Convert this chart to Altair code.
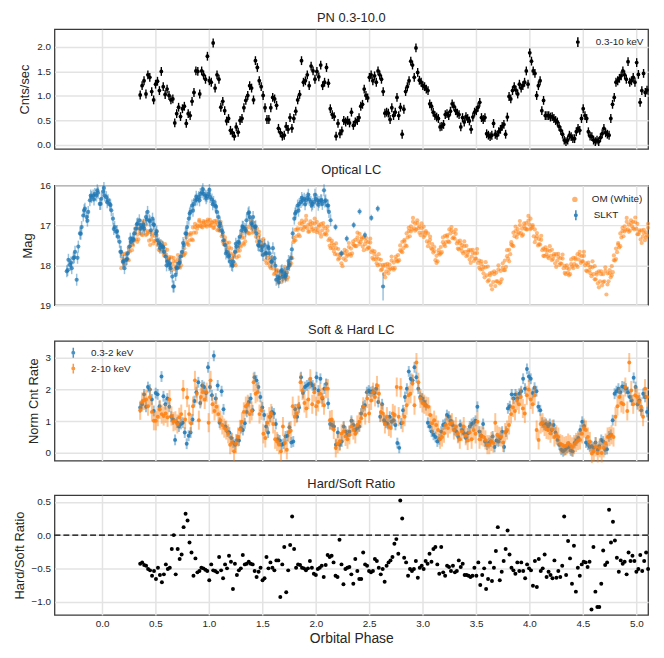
import altair as alt
import numpy as np
import pandas as pd

BLUE = "#1f77b4"
ORANGE = "#ff7f0e"
FONT = "Liberation Sans"
TXT = "#262626"

GRID = [0.0, 0.5, 1.0, 1.5, 2.0, 2.5, 3.0, 3.5, 4.0, 4.5, 5.0]
X_DOMAIN = [-0.445, 5.11]

# ---------------- PN 0.3-10 keV light curve (two read-off segments)
PN_A_RANGE = (0.357, 2.370)
PN_A = [1.02,1.21,1.31,1.04,1.43,1.38,1.09,0.92,1.24,1.30,
        1.11,1.50,1.19,1.03,1.14,1.01,0.92,0.94,0.45,0.64,
        0.77,0.58,0.74,0.79,0.44,0.64,0.60,0.89,1.07,1.51,
        1.50,1.04,1.51,1.43,1.34,1.81,1.31,1.28,2.08,1.16,
        1.43,1.34,0.77,0.89,0.70,0.49,0.54,0.30,0.25,0.18,
        0.37,0.26,0.50,0.54,0.76,0.91,1.01,1.21,1.16,0.92,
        1.72,1.58,1.31,1.19,1.01,0.76,0.52,0.52,0.76,0.97,
        0.94,0.81,0.34,0.25,0.18,0.20,0.38,0.32,0.56,0.34,
        0.54,0.69,0.92,1.03,1.72,1.28,1.31,1.43,1.21,1.61,
        1.51,1.34,1.50,1.39,1.63,1.21,1.28,1.58,1.26,0.74,
        0.62,0.58,0.18,0.44,0.23,0.29,0.50,0.47,0.50,0.45,
        0.67,0.40,0.47]
PN_B_RANGE = (2.389, 5.100)
PN_B = [0.50,0.56,0.79,0.83,1.14,1.01,0.96,1.38,1.43,1.31,
        1.41,1.28,1.51,1.43,1.34,1.09,0.65,0.67,0.65,0.52,
        0.76,0.60,0.67,0.97,0.60,0.77,0.22,0.73,1.09,1.19,
        1.31,1.71,1.63,1.38,1.98,1.48,1.32,1.28,1.21,1.19,
        1.14,1.11,0.84,0.79,0.67,0.60,0.57,0.54,0.37,0.38,
        0.42,0.62,0.64,0.60,0.69,0.84,0.79,0.70,0.65,0.62,
        0.37,0.56,0.47,0.58,0.54,0.49,0.32,0.57,0.67,0.70,
        0.77,0.87,0.56,0.52,0.56,0.23,0.20,0.17,0.20,0.44,
        0.22,0.20,0.27,0.32,0.38,0.42,0.22,0.57,0.99,0.94,
        1.11,1.19,1.12,1.04,1.24,1.16,1.21,1.28,1.51,1.24,
        1.88,1.71,1.51,1.46,1.01,1.21,1.31,0.70,0.91,0.60,
        0.60,0.60,0.57,0.58,0.54,0.50,0.47,0.38,0.30,0.22,
        0.10,0.07,0.10,0.20,0.17,0.13,0.13,0.27,0.34,0.30,
        0.54,0.74,0.60,0.54,0.27,0.18,0.17,0.10,0.07,0.10,
        0.07,0.15,0.23,0.34,0.25,0.22,0.20,0.54,0.83,0.97,
        1.28,1.31,1.36,1.41,1.51,1.43,1.34,1.70,1.28,1.31,
        1.38,1.28,1.68,1.44,0.87,1.11,1.46,1.07,1.12]
PN_ERR = 0.09

# ---------------- Soft (0.3-2 keV) and hard (2-10 keV), normalised
SH_A_RANGE = (0.357, 2.370)
SOFT_A = [1.43,1.53,1.84,1.45,2.07,1.99,1.68,1.32,1.88,1.84,
          1.47,2.40,1.78,1.53,1.71,1.45,1.14,1.05,0.41,0.95,
          0.83,0.91,0.95,0.64,0.29,0.54,0.64,1.05,1.63,1.91,
          2.22,1.57,2.12,2.07,1.88,2.69,2.07,1.81,3.05,1.71,
          2.12,0.95,1.94,1.37,0.83,0.67,0.64,0.47,0.33,0.26,
          0.41,0.39,0.78,0.72,0.93,1.29,1.60,1.71,1.34,2.38,
          2.28,2.07,1.76,1.43,1.19,0.83,0.64,1.14,1.29,1.24,
          0.91,0.43,0.39,0.26,0.29,0.52,0.54,0.81,0.33,0.36,
          1.37,1.14,1.43,2.38,1.88,2.07,2.12,2.17,2.19,2.12,
          2.02,2.38,1.96,2.33,1.71,2.02,2.17,1.55,0.91,0.88,
          0.83,0.26,0.64,0.26,0.36,0.83,0.67,0.57,0.67,1.01,
          0.88,0.72]
SH_B_RANGE = (2.389, 5.100)
SOFT_B = [0.78,0.83,1.24,1.45,1.50,1.91,1.96,1.91,1.94,1.88,
          2.02,1.60,1.14,1.53,1.03,0.95,0.91,1.14,0.98,1.03,
          0.88,0.31,0.16,0.93,1.34,1.76,2.02,2.56,2.33,2.28,
          2.69,2.38,2.02,1.76,1.71,1.60,1.50,0.95,0.83,0.67,
          0.57,0.50,0.36,0.43,0.67,0.88,0.91,1.19,1.14,1.01,
          0.88,0.72,0.67,0.50,0.88,0.72,0.62,0.47,0.62,0.83,
          0.91,0.95,1.01,1.45,0.67,0.54,0.91,0.36,0.26,0.31,
          0.36,0.52,0.19,0.39,0.36,0.47,0.67,0.19,0.67,1.40,
          1.47,1.84,1.71,1.84,1.71,1.86,1.94,2.33,2.02,2.64,
          2.40,2.33,1.88,2.05,1.94,1.45,1.34,0.95,0.88,0.91,
          0.83,0.91,0.72,0.88,0.64,0.41,0.26,0.10,0.05,0.10,
          0.16,0.19,0.08,0.05,0.31,0.39,0.47,0.72,0.98,0.85,
          0.33,0.26,0.19,0.21,0.16,0.33,0.10,0.21,0.41,0.36,
          0.10,0.12,0.52,0.57,1.03,1.86,1.94,2.02,1.91,2.09,
          2.07,2.02,1.91,1.76,1.65,2.36,2.07,1.53,1.65,1.34,
          1.86,1.76,1.29]
HARD_A = [1.34,1.60,1.65,1.68,1.47,1.76,1.29,1.01,1.01,1.14,
          1.37,1.22,1.16,1.24,1.12,1.68,1.16,0.98,1.01,0.91,
          1.12,1.22,1.99,1.05,1.74,1.22,0.93,1.47,2.28,1.86,
          1.03,1.76,1.91,1.68,1.91,0.95,2.28,1.53,1.32,1.45,
          1.22,1.03,0.88,0.78,0.72,0.60,0.26,0.33,0.05,0.29,
          0.50,0.74,0.98,1.29,1.47,1.53,1.22,1.32,2.22,1.86,
          1.91,1.22,1.34,0.60,0.47,0.95,1.14,1.24,0.91,0.43,
          0.36,0.26,0.05,0.83,0.31,0.10,0.64,0.70,1.47,1.14,
          1.24,1.50,2.22,1.96,1.57,1.40,1.68,2.33,1.53,1.91,
          1.47,1.60,1.86,1.74,1.50,2.02,2.02,1.03,1.05,0.74,
          0.16,0.29,0.36,0.60,0.67,0.52,0.43,0.57,0.83,0.72,
          0.60]
HARD_B = [0.88,0.98,1.09,1.45,1.19,1.71,1.24,1.65,1.91,1.76,
          2.12,1.86,1.29,1.24,0.91,1.14,0.83,0.78,1.24,1.19,
          2.07,1.14,2.05,0.95,1.14,1.50,1.81,1.86,2.19,1.50,
          2.84,2.22,1.71,1.57,1.53,1.47,1.45,1.19,0.93,1.03,
          0.88,0.72,0.43,0.50,0.62,0.88,0.78,0.91,0.95,0.72,
          0.83,0.60,0.43,0.67,0.83,0.54,0.39,0.64,0.43,0.72,
          0.60,0.98,0.43,0.54,0.50,0.41,0.26,0.26,0.36,0.31,
          0.95,0.57,0.52,0.50,0.33,0.64,0.72,0.88,1.22,1.43,
          1.32,1.65,1.53,1.76,1.40,1.24,1.81,1.99,1.68,1.53,
          1.81,0.72,0.41,0.91,0.95,0.83,0.74,0.72,0.62,0.74,
          0.50,0.57,0.50,0.29,0.26,0.21,0.23,0.31,0.26,0.19,
          0.26,0.33,0.39,0.41,0.60,0.78,0.72,0.50,0.36,-0.02,
          0.05,0.19,0.00,0.16,0.00,0.16,0.31,0.50,0.52,0.57,
          0.50,1.14,1.47,1.76,1.57,1.53,2.07,1.32,2.84,1.96,
          1.53,1.81,1.76,1.60,1.45,1.14,2.02,1.76]
SOFT_ERR = 0.17
HARD_ERR = 0.30

# ---------------- Hardness ratio
RATIO_A_RANGE = (0.357, 2.370)
RATIO_A = [-0.43,-0.41,-0.45,-0.46,-0.51,-0.53,-0.61,-0.54,-0.66,-0.49,
           -0.60,-0.71,-0.59,-0.44,-0.51,-0.49,-0.21,0.00,-0.59,-0.21,
           -0.36,-0.29,0.12,0.32,0.22,-0.11,-0.26,-0.61,-0.35,-0.56,
           -0.54,-0.49,-0.50,-0.52,-0.54,-0.68,-0.44,-0.53,-0.54,-0.56,
           -0.33,-0.53,-0.65,-0.44,-0.50,-0.31,-0.40,-0.81,-0.43,-0.60,
           -0.53,-0.50,-0.30,-0.44,-0.43,-0.40,-0.43,-0.44,-0.54,-0.63,
           -0.55,-0.49,-0.68,-0.65,-0.33,-0.50,-0.41,-0.49,-0.53,-0.38,
           -0.38,-0.93,-0.44,-0.18,-0.86,-0.53,-0.15,0.28,-0.21,-0.49,
           -0.44,-0.45,-0.49,-0.50,-0.53,-0.50,-0.39,-0.49,-0.58,-0.60,
           -0.51,-0.49,-0.46,-0.63,-0.45,-0.30,-0.33,-0.31,-0.41,-0.61,
           -0.63,-0.07,-0.44,-0.74,-0.51,-0.49,-0.48,-0.59,-0.73,-0.36]
RATIO_B_RANGE = (2.389, 5.110)
RATIO_B = [-0.54,-0.66,-0.66,-0.26,-0.44,-0.46,-0.54,-0.56,-0.54,-0.36,
           -0.39,-0.49,-0.59,-0.51,-0.70,-0.46,-0.41,-0.38,-0.33,-0.13,
           -0.06,-0.28,0.52,0.25,-0.34,-0.41,-0.61,-0.51,-0.54,-0.51,
           -0.39,-0.64,-0.49,-0.46,-0.51,-0.39,-0.43,-0.28,-0.40,-0.21,
           -0.18,-0.44,-0.58,-0.18,-0.56,-0.61,-0.46,-0.48,-0.54,-0.46,
           -0.56,-0.54,-0.38,-0.48,-0.43,-0.60,-0.60,-0.61,-0.63,-0.61,
           -0.49,-0.61,-0.41,-0.75,-0.60,-0.50,-0.81,-0.66,-0.41,-0.69,
           -0.49,-0.24,0.12,-0.68,-0.55,-0.39,-0.21,0.07,-0.29,-0.49,
           -0.53,-0.58,-0.41,-0.54,-0.41,-0.54,-0.65,-0.44,-0.50,-0.53,
           -0.76,-0.39,-0.78,-0.36,-0.54,-0.50,-0.29,-0.63,-0.55,-0.60,
           -0.65,-0.38,-0.64,-0.54,-0.63,-0.46,0.28,-0.60,-0.09,-0.35,
           -0.73,-0.16,-0.85,-0.49,-0.61,-0.44,-0.40,-0.41,-0.48,-0.40,
           -1.12,-0.18,-0.85,-1.08,-1.08,-0.73,-0.23,-0.45,-0.41,0.38,
           -0.11,0.20,-0.08,-0.34,-0.55,-0.38,-0.43,-0.40,-0.59,-0.26,
           -0.39,-0.31,-0.39,-0.55,-0.51,-0.30,-0.54,-0.39,-0.26,-0.51]

# ---------------- Optical: OM (White) magnitudes, phase 0.18 .. 5.11 (step 0.01)
OM_RANGE = (0.18, 5.11)
OM_MAG = [18.07,17.84,17.93,17.71,17.87,17.73,17.85,17.55,17.65,17.49,
          17.62,17.37,17.38,17.18,17.35,17.23,17.35,17.07,17.20,17.07,
          17.24,17.02,17.13,16.98,17.22,17.18,17.38,17.17,17.35,17.26,
          17.45,17.26,17.38,17.24,17.49,17.43,17.63,17.42,17.60,17.52,
          17.75,17.59,17.73,17.61,17.87,17.83,18.03,17.80,17.97,17.89,
          18.09,17.90,18.03,17.84,18.02,17.88,18.00,17.68,17.75,17.57,
          17.69,17.42,17.46,17.23,17.37,17.23,17.35,17.05,17.18,17.04,
          17.18,17.00,17.02,16.90,17.01,16.94,17.05,16.89,16.99,16.91,
          17.03,16.90,16.97,16.86,17.00,16.93,17.06,16.89,16.98,16.92,
          17.12,16.97,17.13,17.01,17.27,17.23,17.47,17.30,17.50,17.44,
          17.70,17.55,17.70,17.58,17.82,17.76,17.95,17.68,17.80,17.64,
          17.77,17.50,17.53,17.31,17.45,17.30,17.40,17.08,17.17,17.04,
          17.20,16.98,17.08,16.92,17.15,17.08,17.28,17.08,17.30,17.24,
          17.50,17.37,17.55,17.44,17.72,17.70,17.95,17.75,17.95,17.87,
          18.07,17.92,18.08,17.96,18.20,18.15,18.35,18.13,18.32,18.24,
          18.42,18.22,18.33,18.14,18.32,18.18,18.30,17.95,18.00,17.79,
          17.82,17.42,17.38,17.11,17.27,17.11,17.23,16.95,17.08,16.96,
          17.12,16.92,17.03,16.86,17.07,16.98,17.15,16.90,17.05,16.94,
          17.14,16.95,17.08,16.91,17.12,17.03,17.20,16.96,17.12,17.02,
          17.22,17.07,17.23,17.13,17.37,17.33,17.57,17.38,17.57,17.49,
          17.72,17.57,17.73,17.59,17.82,17.75,17.95,17.70,17.83,17.69,
          17.87,17.64,17.73,17.54,17.72,17.58,17.70,17.40,17.50,17.36,
          17.52,17.30,17.39,17.21,17.42,17.34,17.53,17.30,17.47,17.39,
          17.59,17.42,17.56,17.43,17.67,17.63,17.85,17.65,17.85,17.79,
          18.00,17.84,17.98,17.86,18.10,18.03,18.22,17.98,18.15,18.04,
          18.20,17.98,18.08,17.88,18.07,17.93,18.07,17.78,17.90,17.74,
          17.87,17.62,17.65,17.41,17.57,17.40,17.50,17.20,17.30,17.14,
          17.27,17.02,17.10,16.91,17.07,16.95,17.10,16.87,17.07,17.02,
          17.24,17.07,17.18,17.03,17.25,17.18,17.40,17.20,17.43,17.36,
          17.57,17.47,17.68,17.64,17.87,17.76,17.90,17.62,17.73,17.54,
          17.67,17.42,17.48,17.26,17.42,17.28,17.40,17.10,17.20,17.12,
          17.32,17.17,17.33,17.21,17.45,17.40,17.60,17.38,17.57,17.49,
          17.70,17.52,17.66,17.51,17.74,17.66,17.85,17.62,17.78,17.69,
          17.89,17.70,17.83,17.69,17.94,17.88,18.10,17.90,18.10,18.04,
          18.30,18.05,18.25,18.03,18.37,18.25,18.50,18.18,18.42,18.22,
          18.52,18.18,18.40,18.10,18.45,18.14,18.35,17.95,18.12,17.88,
          18.04,17.77,17.83,17.61,17.72,17.48,17.50,17.18,17.27,17.14,
          17.30,17.09,17.18,16.99,17.19,17.08,17.23,16.95,17.08,16.94,
          17.10,16.88,16.98,16.83,17.07,17.03,17.27,17.10,17.33,17.27,
          17.50,17.34,17.48,17.36,17.62,17.58,17.77,17.55,17.72,17.62,
          17.82,17.64,17.76,17.61,17.84,17.76,17.95,17.72,17.88,17.79,
          17.99,17.82,17.96,17.83,18.07,18.01,18.22,18.00,18.18,18.09,
          18.22,17.97,18.03,17.81,17.97,17.85,18.00,17.72,17.85,17.74,
          17.94,17.77,17.90,17.76,18.00,17.95,18.15,17.93,18.12,18.04,
          18.27,18.05,18.22,18.02,18.35,18.23,18.45,18.15,18.40,18.22,
          18.50,18.22,18.40,18.14,18.73,18.20,18.40,18.12,18.30,18.02,
          18.17,17.87,17.88,17.58,17.67,17.48,17.55,17.20,17.30,17.14,
          17.27,17.02,17.11,16.91,17.10,16.98,17.13,16.87,17.02,16.91,
          17.10,16.92,17.08,16.96,17.22,17.16,17.35,17.12,17.28,17.19,
          17.37,17.17,17.25,17.06]
# second read-off of the OM cloud (the wider scatter), phase 0.19 .. 5.11 (step 0.02)
OM2_RANGE = (0.19, 5.11)
OM2_MAG = [17.72,17.97,17.69,17.87,17.41, 17.50,17.08,17.41,17.14,17.23,
           16.90,17.24,17.14,17.49,17.18, 17.39,17.14,17.61,17.49,17.68,
           17.47,17.87,17.79,18.12,17.81, 18.03,17.74,18.06,17.75,17.73,
           17.30,17.49,17.19,17.37,16.96, 17.08,16.86,17.03,16.93,17.00,
           16.85,17.01,16.92,17.06,16.88, 17.10,16.91,17.41,17.37,17.60,
           17.43,17.84,17.72,18.00,17.56, 17.63,17.21,17.48,17.15,17.20,
           16.86,17.18,17.04,17.40,17.16, 17.50,17.34,17.88,17.82,18.03,
           17.80,18.22,18.11,18.45,18.16, 18.35,18.04,18.36,18.02,17.95,
           17.30,17.37,17.07,17.27,16.88, 17.05,16.76,17.16,16.97,17.10,
           16.83,17.17,16.99,17.28,16.94, 17.20,17.03,17.51,17.45,17.65,
           17.45,17.85,17.71,18.02,17.61, 17.77,17.44,17.76,17.47,17.52,
           17.18,17.47,17.30,17.62,17.31, 17.55,17.33,17.81,17.72,17.95,
           17.72,18.12,17.99,18.30,17.96, 18.11,17.78,18.11,17.85,17.90,
           17.50,17.67,17.36,17.52,17.06, 17.15,16.81,17.13,16.94,17.18,
           16.95,17.29,17.14,17.52,17.28, 17.60,17.54,17.94,17.69,17.70,
           17.30,17.52,17.24,17.42,17.04, 17.30,17.11,17.58,17.45,17.65,
           17.40,17.77,17.62,17.94,17.61, 17.83,17.59,18.06,17.97,18.20,
           17.92,18.40,18.20,18.60,18.15, 18.40,18.00,18.42,18.06,18.12,
           17.62,17.90,17.42,17.52,17.03, 17.22,16.89,17.26,17.02,17.10,
           16.76,17.09,16.99,17.42,17.19, 17.47,17.26,17.76,17.62,17.78,
           17.52,17.87,17.72,18.04,17.71, 17.95,17.73,18.19,18.07,18.25,
           17.85,18.07,17.81,18.04,17.66, 17.90,17.66,18.13,18.00,18.20,
           17.90,18.35,18.18,18.55,18.15, 18.42,18.05,18.48,18.20,18.25,
           17.75,17.84,17.44,17.52,17.06, 17.15,16.81,17.16,16.94,17.07,
           16.80,17.22,17.12,17.44,17.11, 17.30,16.96]

# ---------------- Optical: SLKT magnitudes
SLKT_RANGE = (-0.330, 2.139)
SLKT_MAG = [18.15,17.86,17.99,18.07,17.82,17.66,18.36,17.53,17.20,17.04,
            16.75,16.58,16.79,16.66,16.37,16.29,16.25,16.21,16.25,16.18,
            16.46,16.33,16.15,16.25,16.29,16.37,16.46,16.62,16.83,17.04,
            17.16,17.28,17.41,17.66,17.91,18.07,17.86,17.70,17.53,17.41,
            17.33,17.20,17.08,16.95,16.87,16.99,17.04,17.08,16.79,16.66,
            16.87,17.12,16.83,16.99,17.20,17.37,17.45,17.49,17.53,17.66,
            17.78,17.91,17.99,18.07,18.28,18.53,18.24,18.07,17.95,17.78,
            17.66,17.49,17.20,17.04,16.83,16.66,16.50,16.46,16.37,16.35,
            16.29,16.21,16.17,16.21,16.25,16.27,16.21,16.29,16.35,16.41,
            16.50,16.66,16.79,16.95,17.12,17.37,17.49,17.66,17.78,17.91,
            17.99,17.91,17.66,17.53,17.41,17.28,17.12,17.04,17.08,16.87,
            16.70,16.79,16.95,16.79,17.04,17.20,17.49,17.41,17.62,17.74,
            17.49,17.70,17.53,17.70,17.91,17.57,17.82,18.36,18.28,18.32,
            18.15,18.28,18.20,18.24,18.07,17.99,17.82,17.20,16.83,16.66,
            16.50,16.46,16.41,16.37,16.33,16.37,16.31,16.35,16.41,16.46,
            16.41,16.33,16.37,16.41,16.37,16.46,16.12,16.37,16.50,16.66,
            16.87]
# second read-off of the SLKT band (between the points above)
SLKT2_RANGE = (-0.322, 2.116)
SLKT2_MAG = [18.12,17.93,17.80,17.81,17.21,16.62,16.88,16.25,16.35,16.12,
             16.46,16.06,16.42,16.49,17.09,17.14,17.66,17.89,17.84,17.33,
             17.36,16.97,17.08,16.98,16.85,16.90,16.97,17.15,17.56,17.55,
             18.00,17.95,18.53,18.06,17.93,17.44,17.21,16.70,16.63,16.28,
             16.37,16.09,16.32,16.11,16.47,16.53,17.02,17.17,17.70,17.75,
             18.01,17.46,17.44,17.03,17.13,16.67,16.99,17.02,17.51,17.54,
             17.69,17.57,17.89,18.01,18.42,18.12,18.28,17.89,17.60,16.70,
             16.63,16.31,16.47,16.23,16.50,16.23,16.48,16.37,16.40,16.50]
SLKT_ERR = 0.15
SLKT_LATE_PHASE = [2.185, 2.24, 2.29, 2.355, 2.41, 2.46, 2.52, 2.58, 2.63]
SLKT_LATE_MAG = [17.04, 17.70, 17.33, 16.99, 16.65, 17.24, 16.81, 16.58, 18.53]
SLKT_LATE_ERR = [0.08, 0.08, 0.08, 0.08, 0.08, 0.08, 0.08, 0.08, 0.35]


def seg(vals, rng):
    return np.linspace(rng[0], rng[1], len(vals))


# ---------------- tables
pn = pd.DataFrame({
    "phase": np.concatenate([seg(PN_A, PN_A_RANGE), seg(PN_B, PN_B_RANGE)]),
    "rate": PN_A + PN_B,
})
pn["lo"] = pn["rate"] - PN_ERR
pn["hi"] = pn["rate"] + PN_ERR
pn["series"] = "0.3-10 keV"

soft = pd.DataFrame({
    "phase": np.concatenate([seg(SOFT_A, SH_A_RANGE), seg(SOFT_B, SH_B_RANGE)]),
    "v": SOFT_A + SOFT_B,
})
soft["lo"] = soft["v"] - SOFT_ERR
soft["hi"] = soft["v"] + SOFT_ERR
soft["band"] = "0.3-2 keV"

hard = pd.DataFrame({
    "phase": np.concatenate([seg(HARD_A, SH_A_RANGE), seg(HARD_B, SH_B_RANGE)]),
    "v": HARD_A + HARD_B,
})
hard["lo"] = hard["v"] - HARD_ERR
hard["hi"] = hard["v"] + HARD_ERR
hard["band"] = "2-10 keV"

ratio = pd.DataFrame({
    "phase": np.concatenate([seg(RATIO_A, RATIO_A_RANGE), seg(RATIO_B, RATIO_B_RANGE)]),
    "r": RATIO_A + RATIO_B,
})

om = pd.DataFrame({
    "phase": np.concatenate([seg(OM_MAG, OM_RANGE), seg(OM2_MAG, OM2_RANGE)]),
    "mag": OM_MAG + OM2_MAG,
})
om["src"] = "OM (White)"

slkt = pd.DataFrame({
    "phase": np.concatenate([seg(SLKT_MAG, SLKT_RANGE), seg(SLKT2_MAG, SLKT2_RANGE),
                             np.array(SLKT_LATE_PHASE)]),
    "mag": SLKT_MAG + SLKT2_MAG + SLKT_LATE_MAG,
    "err": [SLKT_ERR] * (len(SLKT_MAG) + len(SLKT2_MAG)) + SLKT_LATE_ERR,
})
slkt["lo"] = slkt["mag"] - slkt["err"]
slkt["hi"] = slkt["mag"] + slkt["err"]
slkt["src"] = "SLKT"

# ---------------- shared pieces
W, H = 600, 121
XS = alt.Scale(domain=X_DOMAIN, nice=False, zero=False)
X_TOP = alt.X("phase:Q", scale=XS,
              axis=alt.Axis(values=GRID, labels=False, ticks=False, domain=False,
                            title=None, grid=True))
X_BOT = alt.X("phase:Q", scale=XS,
              axis=alt.Axis(values=GRID, format=".1f", ticks=False, domain=False,
                            grid=True, title="Orbital Phase", labelPadding=4,
                            titlePadding=3, titleFontSize=14))
EB = "M0,-1L0,1M-0.25,0A0.25,0.25,0,1,0,0.25,0A0.25,0.25,0,1,0,-0.25,0Z"

# ---------------- panel 1
y1s = alt.Scale(domain=[-0.08, 2.36], nice=False, zero=False)
y1a = alt.Axis(values=[0, 0.5, 1.0, 1.5, 2.0], format=".1f", title="Cnts/sec")
c1 = alt.Color("series:N", scale=alt.Scale(domain=["0.3-10 keV"], range=["black"]),
               legend=alt.Legend(title=None, orient="none", legendX=523, legendY=7,
                                 symbolType=EB, symbolSize=100, symbolStrokeWidth=1.5,
                                 labelOffset=12))
b1 = alt.Chart(pn).encode(x=X_TOP)
p1 = alt.layer(
    b1.mark_rule(strokeWidth=1.4).encode(
        y=alt.Y("lo:Q", scale=y1s, axis=y1a, title="Cnts/sec"), y2="hi:Q", color=c1),
    b1.mark_circle(size=15, opacity=1).encode(
        y=alt.Y("rate:Q", scale=y1s, axis=y1a, title="Cnts/sec"), color=c1),
).properties(width=W, height=H, title="PN 0.3-10.0")

# ---------------- panel 2
y2s = alt.Scale(domain=[16, 19], reverse=True, nice=False, zero=False)
y2a = alt.Axis(values=[16, 17, 18, 19], format="d", title="Mag")
p2 = alt.layer(
    alt.Chart(om).mark_circle(size=18, opacity=0.55).encode(
        x=X_TOP, y=alt.Y("mag:Q", scale=y2s, axis=y2a, title="Mag"),
        color=alt.Color("src:N", scale=alt.Scale(domain=["OM (White)"], range=[ORANGE]),
                        legend=alt.Legend(title=None, orient="none", legendX=521, legendY=9,
                                          symbolType="circle", symbolSize=30,
                                          symbolOpacity=0.6, labelOffset=12))),
    alt.Chart(slkt).mark_rule(strokeWidth=1.5, opacity=0.45).encode(
        x=X_TOP, y=alt.Y("lo:Q", scale=y2s, axis=y2a, title="Mag"), y2="hi:Q",
        stroke=alt.Stroke("src:N", scale=alt.Scale(domain=["SLKT"], range=[BLUE]),
                          legend=alt.Legend(title=None, orient="none", legendX=521, legendY=24,
                                            symbolType=EB, symbolSize=100, symbolOpacity=0.9,
                                            symbolStrokeWidth=1.5, labelOffset=12))),
    alt.Chart(slkt).mark_circle(size=18, opacity=0.75, color=BLUE).encode(
        x=X_TOP, y=alt.Y("mag:Q", scale=y2s, axis=y2a, title="Mag")),
).resolve_scale(color="independent", stroke="independent").properties(
    width=W, height=H, title="Optical LC")

# ---------------- panel 3
y3s = alt.Scale(domain=[-0.24, 3.52], nice=False, zero=False)
y3a = alt.Axis(values=[0, 1, 2, 3], format="d", title="Norm Cnt Rate")
c3 = alt.Color("band:N", scale=alt.Scale(domain=["0.3-2 keV", "2-10 keV"], range=[BLUE, ORANGE]),
               legend=alt.Legend(title=None, orient="none", legendX=13, legendY=6,
                                 symbolType=EB, symbolSize=100, symbolStrokeWidth=1.5,
                                 symbolOpacity=0.8, labelOffset=12, rowPadding=0))


def band_layers(df):
    b = alt.Chart(df).encode(x=X_TOP)
    return [
        b.mark_rule(strokeWidth=2, opacity=0.45).encode(
            y=alt.Y("lo:Q", scale=y3s, axis=y3a, title="Norm Cnt Rate"), y2="hi:Q", color=c3),
        b.mark_circle(size=16, opacity=0.85).encode(
            y=alt.Y("v:Q", scale=y3s, axis=y3a, title="Norm Cnt Rate"), color=c3),
    ]


p3 = alt.layer(*band_layers(soft), *band_layers(hard)).properties(
    width=W, height=H, title="Soft & Hard LC")

# ---------------- panel 4
y4s = alt.Scale(domain=[-1.2, 0.6], nice=False, zero=False)
y4a = alt.Axis(values=[-1.0, -0.5, 0.0, 0.5], format=".1f", title="Hard/Soft Ratio")
zero_df = pd.DataFrame({"r": [0.0]})
p4 = alt.layer(
    alt.Chart(zero_df).mark_rule(color="black", strokeDash=[6, 3], strokeWidth=1.5).encode(
        y=alt.Y("r:Q", scale=y4s, axis=y4a, title="Hard/Soft Ratio")),
    alt.Chart(ratio).mark_circle(size=16, opacity=1, color="black").encode(
        x=X_BOT, y=alt.Y("r:Q", scale=y4s, axis=y4a, title="Hard/Soft Ratio")),
).properties(width=W, height=H, title="Hard/Soft Ratio")

chart = alt.vconcat(p1, p2, p3, p4, spacing=12).resolve_scale(
    color="independent", stroke="independent"
).resolve_legend(color="independent", stroke="independent").properties(
    padding={"left": 4, "top": 0, "right": 5, "bottom": 2}
).configure_view(
    stroke="#3a3a3a", strokeWidth=1.3
).configure_axis(
    labelFont=FONT, titleFont=FONT, labelColor=TXT, titleColor=TXT,
    titleFontWeight="normal", labelFontSize=10, titleFontSize=13,
    gridColor="#e3e3e3", gridWidth=1.5, domain=False, ticks=False,
    labelPadding=4, titlePadding=5,
).configure_title(
    font=FONT, fontSize=13, fontWeight="normal", color=TXT, offset=4
).configure_legend(
    labelFont=FONT, labelFontSize=10, labelColor=TXT, padding=0
)

chart.save("out.html", embed_options={"renderer": "svg", "actions": False})
